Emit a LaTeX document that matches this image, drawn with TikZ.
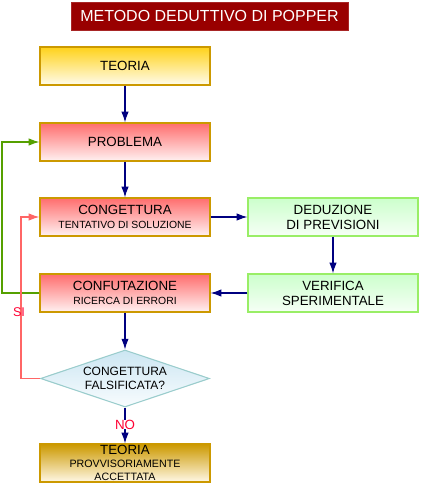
\documentclass[tikz,border=0pt]{standalone}
\usepackage{fontspec}
\setmainfont{Liberation Sans}
\usetikzlibrary{arrows.meta,shapes.geometric}
\definecolor{navyc}{HTML}{000080}
\definecolor{goldb}{HTML}{CC9900}
\definecolor{yelt}{HTML}{FFD21A}
\definecolor{yelb}{HTML}{FFFCEC}
\definecolor{redt}{HTML}{FF6D6D}
\definecolor{redb}{HTML}{FFF2F2}
\definecolor{grnt}{HTML}{CCFFCC}
\definecolor{grnb}{HTML}{F6FFF6}
\definecolor{grnbord}{HTML}{99EE66}
\definecolor{blut}{HTML}{CCE6F2}
\definecolor{blub}{HTML}{F8FCFE}
\definecolor{bluebord}{HTML}{99CCCC}
\definecolor{goldt}{HTML}{CC9900}
\definecolor{goldbot}{HTML}{FFF8E6}
\definecolor{titlec}{HTML}{990000}
\definecolor{loopg}{HTML}{55A000}
\definecolor{loopr}{HTML}{FF6666}
\definecolor{labr}{HTML}{FF0033}
\newcommand\subtxt{\fontsize{7.8}{9}\selectfont}
\newcommand\fintxt{\fontsize{8}{9}\selectfont}
\tikzset{
  box/.style={rectangle, draw, line width=0.9pt, minimum width=127.5pt, minimum height=28.5pt,
    inner sep=0pt, align=center, font=\fontsize{10}{11}\selectfont},
  yelbox/.style={box, draw=goldb, top color=yelt, bottom color=yelb},
  redbox/.style={box, draw=goldb, top color=redt, bottom color=redb},
  grnbox/.style={box, draw=grnbord, top color=grnt, bottom color=grnb, font=\fontsize{10}{11.2}\selectfont},
  finbox/.style={box, draw=goldb, top color=goldt, bottom color=goldbot},
  flow/.style={draw=navyc, line width=0.8pt, -{Latex[length=8pt,width=5.5pt]}},
}
\begin{document}
\begin{tikzpicture}[x=0.75pt,y=-0.75pt]
\useasboundingbox (0,0) rectangle (420,484);
\node[rectangle, fill=titlec, draw=titlec!85!white, line width=0.6pt, minimum width=207.75pt, minimum height=21pt, inner sep=0pt,
  text=white, font=\fontsize{12}{14}\selectfont] (title) at (209.5,16) {METODO DEDUTTIVO DI POPPER};
\node[yelbox] (teoria) at (125,66) {TEORIA};
\node[redbox] (problema) at (125,142) {PROBLEMA};
\node[redbox] (cong) at (125,217) {CONGETTURA\\[-1pt]{\subtxt TENTATIVO DI SOLUZIONE}};
\node[grnbox] (ded) at (333,217) {DEDUZIONE\\DI PREVISIONI};
\node[grnbox] (ver) at (333,293) {VERIFICA\\SPERIMENTALE};
\node[redbox] (conf) at (125,293) {CONFUTAZIONE\\[-1pt]{\subtxt RICERCA DI ERRORI}};
\node[diamond, draw=bluebord, line width=0.8pt, top color=blut, bottom color=blub, aspect=2.96,
  minimum width=126.75pt, minimum height=42.75pt, inner sep=0pt, align=center,
  font=\fontsize{9}{10}\selectfont] (dia) at (125,378.5) {CONGETTURA\\FALSIFICATA?};
\node[finbox, draw=goldb, minimum height=28.5pt] (fin) at (125,463)
  {{\fontsize{10}{10}\selectfont TEORIA}\\[-1.5pt]{\fintxt PROVVISORIAMENTE}\\[-1.5pt]{\fintxt ACCETTATA}};
\draw[flow] (teoria) -- (problema);
\draw[flow] (problema) -- (cong);
\draw[flow] (cong) -- (ded);
\draw[flow] (ded) -- (ver);
\draw[flow] (ver) -- (conf);
\draw[flow] (conf) -- (dia);
\draw[flow] (dia) -- (fin);
\node[text=labr, font=\fontsize{10}{10}\selectfont, inner sep=0pt, fill=white] (no) at (125,424.5) {NO};
\coordinate (gl) at (2,293);
\draw[draw=loopg, line width=0.8pt, -{Latex[length=8pt,width=5.5pt]}] (conf.west) -- (gl) |- (problema.west);
\coordinate (rl) at (21,378.5);
\draw[draw=loopr, line width=0.8pt, -{Latex[length=8pt,width=5.5pt]}] (dia.west) -- (rl) |- (cong.west);
\node[text=labr, font=\fontsize{9.5}{10}\selectfont, inner sep=0pt] (si) at (19,312) {SI};
\end{tikzpicture}
\end{document}
